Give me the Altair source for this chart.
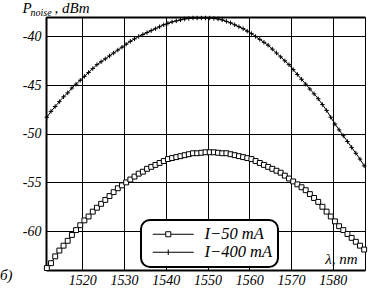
import altair as alt
import pandas as pd

# ---- data ----
wavelength = [
    1511.5, 1512.5, 1513.5, 1514.5, 1515.5, 1516.5, 1517.5, 1518.5, 1519.5, 1520.5,
    1521.5, 1522.5, 1523.5, 1524.5, 1525.5, 1526.5, 1527.5, 1528.5, 1529.5, 1530.5,
    1531.5, 1532.5, 1533.5, 1534.5, 1535.5, 1536.5, 1537.5, 1538.5, 1539.5, 1540.5,
    1541.5, 1542.5, 1543.5, 1544.5, 1545.5, 1546.5, 1547.5, 1548.5, 1549.5, 1550.5,
    1551.5, 1552.5, 1553.5, 1554.5, 1555.5, 1556.5, 1557.5, 1558.5, 1559.5, 1560.5,
    1561.5, 1562.5, 1563.5, 1564.5, 1565.5, 1566.5, 1567.5, 1568.5, 1569.5, 1570.5,
    1571.5, 1572.5, 1573.5, 1574.5, 1575.5, 1576.5, 1577.5, 1578.5, 1579.5, 1580.5,
    1581.5, 1582.5, 1583.5, 1584.5, 1585.5, 1586.5, 1587.5,
]
p_50mA = [
    -63.8, -63.3, -62.6, -62.0, -61.5, -61.0, -60.4, -59.9, -59.4, -58.9,
    -58.5, -58.0, -57.6, -57.2, -56.8, -56.4, -56.0, -55.6, -55.3, -55.0,
    -54.7, -54.4, -54.1, -53.9, -53.6, -53.4, -53.2, -53.0, -52.8, -52.6,
    -52.5, -52.4, -52.3, -52.2, -52.1, -52.0, -52.0, -51.95, -51.9, -51.9,
    -51.9, -51.95, -52.0, -52.0, -52.1, -52.2, -52.3, -52.4, -52.5, -52.6,
    -52.8, -53.0, -53.2, -53.4, -53.6, -53.8, -54.0, -54.3, -54.6, -54.9,
    -55.2, -55.5, -55.8, -56.2, -56.6, -57.0, -57.5, -58.0, -58.5, -59.0,
    -59.5, -59.9, -60.3, -60.7, -61.1, -61.5, -61.9,
]
p_400mA = [
    -48.3, -47.7, -47.2, -46.7, -46.2, -45.8, -45.3, -44.9, -44.5, -44.1,
    -43.7, -43.3, -42.9, -42.6, -42.3, -42.0, -41.7, -41.4, -41.1, -40.8,
    -40.5, -40.25, -40.0, -39.8, -39.6, -39.4, -39.2, -39.0, -38.8, -38.65,
    -38.5, -38.4, -38.3, -38.2, -38.15, -38.1, -38.1, -38.1, -38.1, -38.1,
    -38.15, -38.2, -38.3, -38.45, -38.6, -38.8, -39.0, -39.2, -39.45, -39.7,
    -40.0, -40.3, -40.6, -40.9, -41.3, -41.7, -42.1, -42.5, -42.9, -43.4,
    -43.9, -44.4, -44.9, -45.4, -45.9, -46.4, -47.0, -47.6, -48.3, -49.0,
    -49.6, -50.2, -50.8, -51.4, -52.0, -52.6, -53.3,
]
series_names = ["I\u221250 mA", "I\u2212400 mA"]
x_ticks = [1520, 1530, 1540, 1550, 1560, 1570, 1580]
y_ticks = [-40, -45, -50, -55, -60]
x_domain = [1511.3, 1587.7]
y_domain = [-64, -38]

rows = []
for w, a, b in zip(wavelength, p_50mA, p_400mA):
    rows.append({"wl": w, "p": a, "s": series_names[0]})
    rows.append({"wl": w, "p": b, "s": series_names[1]})
df = pd.DataFrame(rows)

FONT = "Liberation Serif"
xscale = alt.Scale(domain=x_domain, nice=False, zero=False)
yscale = alt.Scale(domain=y_domain, nice=False, zero=False)

base = alt.Chart(df)

lines = base.mark_line(color="black", strokeWidth=1).encode(
    x=alt.X("wl:Q", scale=xscale, axis=alt.Axis(
        values=x_ticks, grid=True, ticks=False, domainWidth=2, labelPadding=3,
        labelFontSize=14, labelFlush=False, format="d",
        title="\u03bb, nm", titleX=311, titleY=-7, titleAlign="right",
        titleBaseline="alphabetic", titleFontSize=15)),
    y=alt.Y("p:Q", scale=yscale, axis=alt.Axis(
        values=y_ticks, grid=True, ticks=False, domainWidth=2, labelPadding=5,
        labelFontSize=14, labelExpr="'-' + abs(datum.value)",
        title="P", titleAngle=0, titleX=-24, titleY=-5, titleAlign="left",
        titleBaseline="alphabetic", titleFontSize=15)),
    detail="s:N",
)

pts50 = base.transform_filter(alt.datum.s == series_names[0]).mark_point(
    shape="square", size=24, filled=True, fill="white", stroke="black",
    strokeWidth=1, opacity=1,
).encode(
    x=alt.X("wl:Q", scale=xscale, axis=None),
    y=alt.Y("p:Q", scale=yscale, axis=None),
)

pts400 = base.transform_filter(alt.datum.s == series_names[1]).mark_point(
    shape="M0,-1L0,1M-1,0L1,0", size=20, filled=False, stroke="black",
    strokeWidth=1, opacity=1,
).encode(
    x=alt.X("wl:Q", scale=xscale, axis=None),
    y=alt.Y("p:Q", scale=yscale, axis=None),
)

leg_sq = "M-1,0L1.36,0M2.28,0L6.45,0M1.36,-0.46L2.28,-0.46L2.28,0.46L1.36,0.46Z"
leg_plus = "M-1,0L6.45,0M1.82,-0.5L1.82,0.5"

legend_layer = base.mark_point(opacity=0).encode(
    x=alt.X("wl:Q", scale=xscale, axis=alt.Axis(
        orient="top", labels=False, ticks=False, grid=False, domainWidth=2,
        title="noise", titleFontSize=10, titleX=-16, titleY=-2,
        titleAlign="left", titleBaseline="alphabetic")),
    y=alt.Y("p:Q", scale=yscale, axis=alt.Axis(
        orient="right", labels=False, ticks=False, grid=False, domain=False,
        title=", dBm", titleAngle=0, titleX=-311, titleY=-5,
        titleAlign="left", titleBaseline="alphabetic", titleFontSize=15)),
    shape=alt.Shape("s:N", scale=alt.Scale(domain=series_names, range=[leg_sq, leg_plus]),
                    legend=alt.Legend(
                        title=None, orient="none", legendX=95, legendY=203,
                        padding=6, strokeColor="black",
                        cornerRadius=9, fillColor="white",
                        symbolSize=121, symbolStrokeColor="black",
                        symbolFillColor="white", symbolStrokeWidth=1,
                        symbolOpacity=1, symbolOffset=3, labelOffset=38,
                        labelFont=FONT, labelFontStyle="italic", labelFontSize=16.5,
                        labelColor="black", rowPadding=1, labelLimit=0)),
    size=alt.value(121),
)

chart = alt.layer(lines, pts50, pts400, legend_layer).resolve_axis(
    x="independent", y="independent"
).properties(
    width=319, height=253,
    autosize=alt.AutoSizeParams(type="none"),
    padding={"left": 46, "top": 17, "right": 4, "bottom": 20},
    title=alt.TitleParams("\u0431)", orient="bottom", anchor="start", frame="group",
                          dx=-46, dy=-23, font=FONT, fontSize=15, fontStyle="italic",
                          fontWeight="normal", color="black"),
).configure_view(
    stroke="black", strokeWidth=1
).configure_axis(
    gridColor="black", gridWidth=1, gridOpacity=1, domainColor="black",
    labelColor="black", labelFont=FONT, labelFontStyle="italic",
    titleFont=FONT, titleFontStyle="italic", titleFontWeight="normal",
    titleColor="black",
).configure_legend(
    strokeWidth=2
)

chart.save("out.html", embed_options={"renderer": "svg", "actions": False})
